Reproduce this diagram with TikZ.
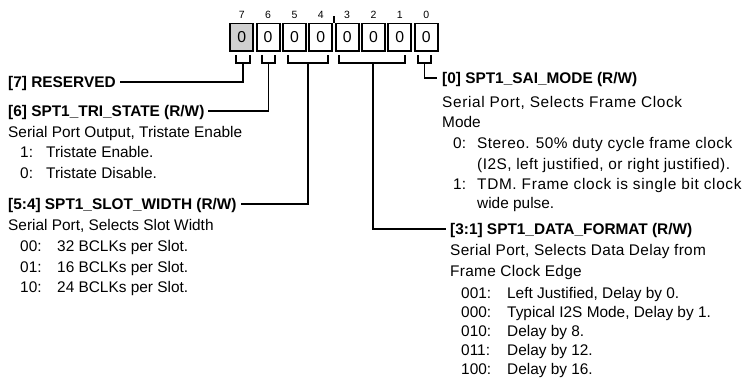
\documentclass[tikz,border=0pt]{standalone}
\usepackage{fontspec}
\setmainfont{Liberation Sans}
\newfontfamily\wideA[LetterSpace=4.2]{Liberation Sans}
\newfontfamily\wideB[LetterSpace=3]{Liberation Sans}
\newfontfamily\wideC[LetterSpace=2]{Liberation Sans}
\definecolor{boxgrey}{RGB}{208,208,208}
\newcommand{\lbl}[3]{\makebox[#1pt][l]{#2}#3}
\tikzset{
  txt/.style={anchor=west, inner sep=0pt, text height=11pt, text depth=0pt, font=\fontsize{15.4}{18}\selectfont},
  hdr/.style={txt, font=\fontsize{15.4}{18}\selectfont\bfseries},
  bitbox/.style={draw, line width=1.8pt, minimum width=23pt, minimum height=27.5pt, inner sep=0pt, font=\fontsize{15.8}{18}\selectfont},
  bitnum/.style={inner sep=0pt, font=\fontsize{10.5}{12}\selectfont},
  brk/.style={line width=1.8pt},
  conn/.style={line width=1.8pt},
}
\begin{document}
\begin{tikzpicture}[x=1pt, y=-1pt]
\useasboundingbox (0,0) rectangle (748,379);
% bit boxes and numbers
\foreach \i/\f in {7/boxgrey,6/white,5/white,4/white,3/white,2/white,1/white,0/white} {
  \node[bitbox, fill=\f] (b\i) at ({241.8+26.34*(7-\i)},37.2) {0};
  \node[bitnum] (n\i) at ({241.8+26.34*(7-\i)},14.5) {\i};
}
\coordinate (tk1) at (334,16.5);
\coordinate (tk2) at (334,23);
\draw[line width=1.4pt] (tk1) -- (tk2);
% brackets
\draw[brk] (236,55) -- (236,63) -- (250,63) -- (250,55);
\draw[brk] (262,55) -- (262,63) -- (275,63) -- (275,55);
\draw[brk] (288,55) -- (288,63) -- (328,63) -- (328,55);
\draw[brk] (339,55) -- (339,63) -- (405,63) -- (405,55);
\draw[brk] (418,55) -- (418,63) -- (431,63) -- (431,55);
\coordinate (s7) at (243,63);
\coordinate (s6) at (268.5,63);
\coordinate (s54) at (308,63);
\coordinate (s31) at (373,63);
\coordinate (s0) at (424.5,63);
% left texts
\node[hdr] (t7) at (8,82) {[7] RESERVED};
\node[hdr] (t6) at (8,111) {[6] SPT1\_TRI\_STATE (R/W)};
\node[txt] (t6a) at (8,132) {Serial Port Output, Tristate Enable};
\node[txt] (t6b) at (20,152) {\lbl{26}{1:}{Tristate Enable.}};
\node[txt] (t6c) at (20,173) {\lbl{26}{0:}{Tristate Disable.}};
\node[hdr] (t54) at (8,204) {[5:4] SPT1\_SLOT\_WIDTH (R/W)};
\node[txt] (t54a) at (8,225) {Serial Port, Selects Slot Width};
\node[txt] (t54b) at (20,246) {\lbl{37}{00:}{32 BCLKs per Slot.}};
\node[txt] (t54c) at (20,267) {\lbl{37}{01:}{16 BCLKs per Slot.}};
\node[txt] (t54d) at (20,287) {\lbl{37}{10:}{24 BCLKs per Slot.}};
% right texts
\node[hdr] (t0) at (442,78) {[0] SPT1\_SAI\_MODE (R/W)};
\node[txt] (t0a) at (442,102) {\wideA Serial Port, Selects Frame Clock};
\node[txt] (t0b) at (442,122) {Mode};
\node[txt] (t0c) at (453,143.5) {\lbl{24}{0:}{\wideB Stereo. 50\% duty cycle frame clock}};
\node[txt] (t0d) at (477,164) {\wideB (I2S, left justified, or right justified).};
\node[txt] (t0e) at (453,184) {\lbl{24}{1:}{\wideA TDM. Frame clock is single bit clock}};
\node[txt] (t0f) at (477,203) {wide pulse.};
\node[hdr] (t31) at (450,229) {[3:1] SPT1\_DATA\_FORMAT (R/W)};
\node[txt] (t31a) at (450,250) {\wideC Serial Port, Selects Data Delay from};
\node[txt] (t31b) at (450,271.5) {\wideC Frame Clock Edge};
\node[txt] (t31c) at (461,293.5) {\lbl{46}{001:}{Left Justified, Delay by 0.}};
\node[txt] (t31d) at (461,312.5) {\lbl{46}{000:}{Typical I2S Mode, Delay by 1.}};
\node[txt] (t31e) at (461,331.5) {\lbl{46}{010:}{Delay by 8.}};
\node[txt] (t31f) at (461,350.5) {\lbl{46}{011:}{Delay by 12.}};
\node[txt] (t31g) at (461,369.5) {\lbl{46}{100:}{Delay by 16.}};
% connectors
\draw[conn] (s7) |- ([xshift=4pt]t7.east);
\draw[conn] (s6) |- ([xshift=3pt]t6.east);
\draw[conn] (s54) |- ([xshift=4pt]t54.east);
\draw[conn] (s31) |- ([xshift=-4pt]t31.west);
\draw[conn] (s0) |- ([xshift=-5pt]t0.west);
\end{tikzpicture}
\end{document}
